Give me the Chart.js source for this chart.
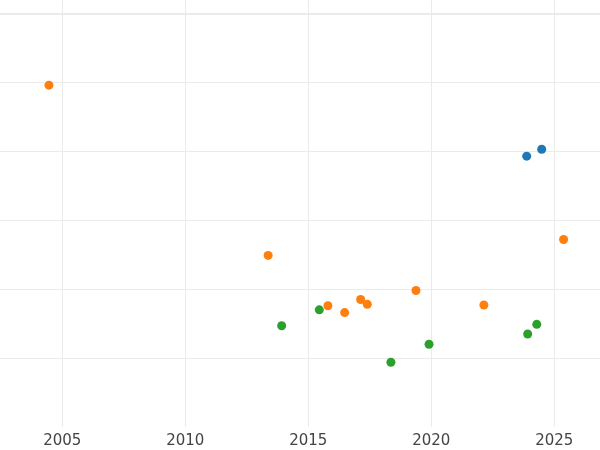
<!DOCTYPE html>
<html>
<head>
<meta charset="utf-8">
<script src="https://cdn.jsdelivr.net/npm/chart.js@4"></script>
<style>
  html, body { margin: 0; padding: 0; background: #fff; }
  #wrap { width: 600px; height: 450px; }
</style>
</head>
<body>
<div id="wrap"><canvas id="chart"></canvas></div>
<script>
// years on x, unlabeled values on y
const orangeYears = [2004.46, 2013.37, 2015.80, 2016.48, 2017.13, 2017.40, 2019.38, 2022.14, 2025.38];
const orangeValues = [4.96, 2.49, 1.76, 1.66, 1.85, 1.78, 1.98, 1.77, 2.72];
const blueYears = [2023.88, 2024.49];
const blueValues = [3.93, 4.03];
const greenYears = [2013.92, 2015.45, 2018.36, 2019.91, 2023.92, 2024.29];
const greenValues = [1.47, 1.70, 0.94, 1.20, 1.35, 1.49];
const xTicks = [2005, 2010, 2015, 2020, 2025];
const yTicks = [1, 2, 3, 4, 5, 6];

const toPoints = (xs, ys) => xs.map((x, i) => ({ x: x, y: ys[i] }));

const mkSet = (label, xs, ys, color) => ({
	label: label,
	data: toPoints(xs, ys),
	backgroundColor: color,
	borderColor: color,
	borderWidth: 0,
	pointRadius: 4.5,
	pointHoverRadius: 4.5
});

new Chart(document.getElementById("chart"), {
	type: "scatter",
	data: {
		datasets: [
			mkSet("blue", blueYears, blueValues, "#1f77b4"),
			mkSet("orange", orangeYears, orangeValues, "#ff7f0e"),
			mkSet("green", greenYears, greenValues, "#2ca02c")
		]
	},
	options: {
		responsive: true,
		maintainAspectRatio: false,
		animation: false,
		layout: { padding: 0, autoPadding: false },
		plugins: { legend: { display: false }, tooltip: { enabled: false } },
		scales: {
			x: {
				type: "linear",
				min: 2002.47,
				max: 2026.86,
				afterBuildTicks: s => { s.ticks = xTicks.map(v => ({ value: v })); },
				afterFit: s => { s.height = 23; },
				border: { display: false },
				grid: { color: "#ebebeb", lineWidth: 1, drawTicks: false },
				ticks: {
					padding: 5,
					color: "#444",
					font: { family: "DejaVu Sans", size: 15 },
					callback: v => String(v)
				}
			},
			y: {
				min: 0,
				max: 6.196,
				afterBuildTicks: s => { s.ticks = yTicks.map(v => ({ value: v })); },
				border: { display: false },
				grid: {
					color: "#ebebeb",
					// top line looks heavier in the original
					lineWidth: c => (c.tick && c.tick.value === 6 ? 2 : 1),
					drawTicks: false
				},
				ticks: { display: false }
			}
		}
	}
});
</script>
</body>
</html>
